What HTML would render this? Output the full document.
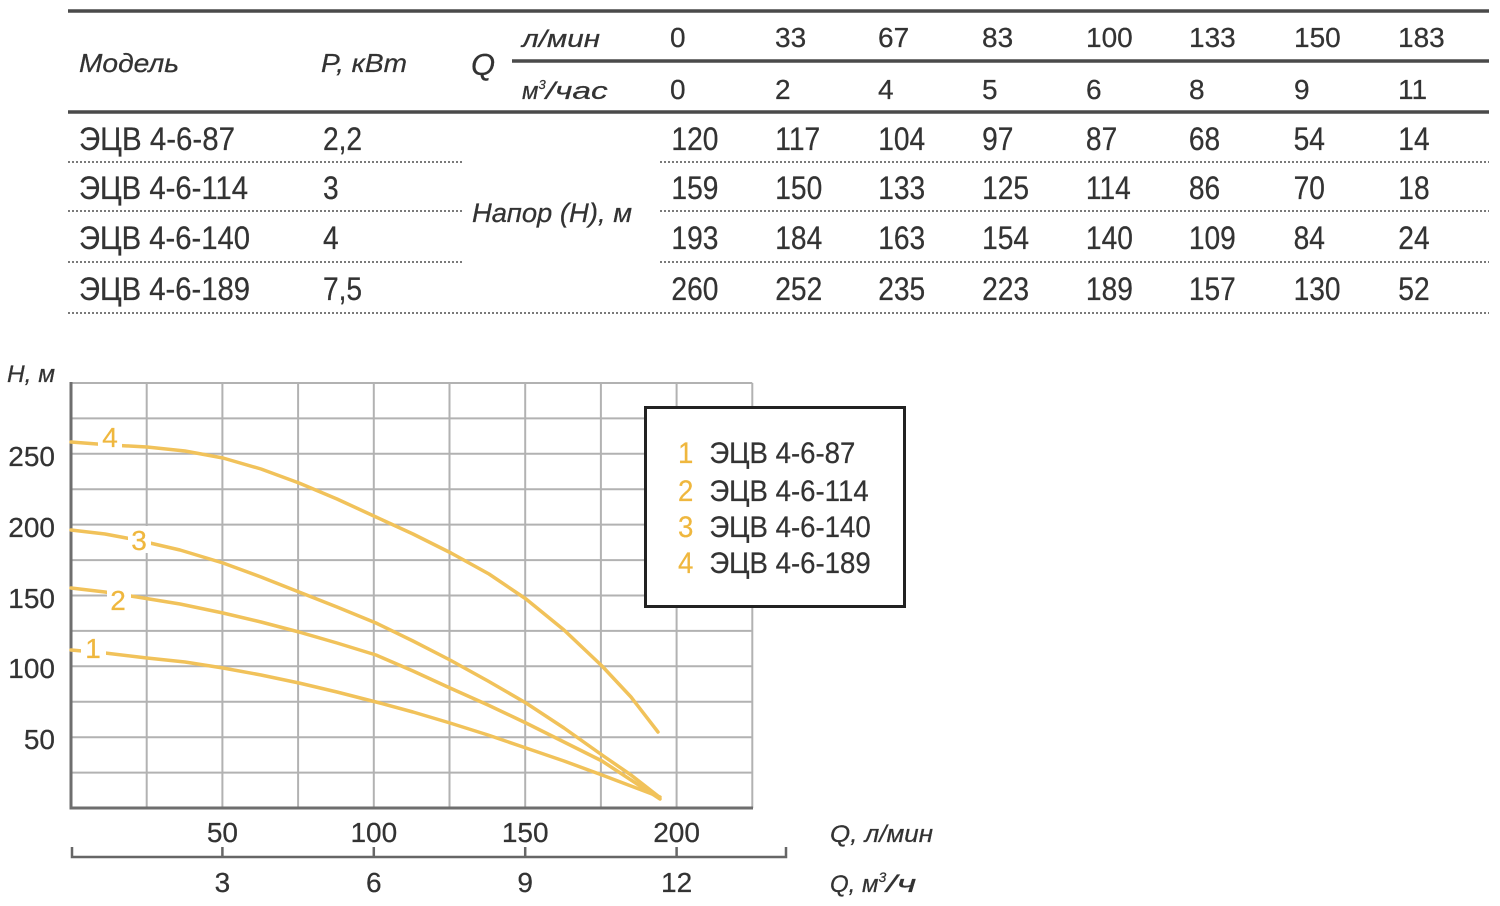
<!DOCTYPE html>
<html>
<head>
<meta charset="utf-8">
<style>
html,body{margin:0;padding:0;background:#fff;width:1500px;height:906px;overflow:hidden;}
svg{display:block;}
text{font-family:"Liberation Sans","DejaVu Sans",sans-serif;fill:#333;stroke:#333;stroke-width:0.25;}
.it{font-style:italic;}
.gold{fill:#efb73e;stroke:#efb73e;}
</style>
</head>
<body>
<svg width="1500" height="906" viewBox="0 0 1500 906" xmlns="http://www.w3.org/2000/svg">
<rect x="0" y="0" width="1500" height="906" fill="#fff"/>

<!-- ===== TABLE ===== -->
<g stroke="#4a4a4a" stroke-width="3.5">
  <line x1="68" y1="11" x2="1489" y2="11"/>
  <line x1="512" y1="61" x2="1489" y2="61"/>
  <line x1="68" y1="112" x2="1489" y2="112"/>
</g>
<g stroke="#7a7a7a" stroke-width="2" stroke-dasharray="2 2">
  <line x1="68" y1="162" x2="462" y2="162"/>
  <line x1="660" y1="162" x2="1489" y2="162"/>
  <line x1="68" y1="211" x2="462" y2="211"/>
  <line x1="660" y1="211" x2="1489" y2="211"/>
  <line x1="68" y1="262" x2="462" y2="262"/>
  <line x1="660" y1="262" x2="1489" y2="262"/>
  <line x1="68" y1="313" x2="1489" y2="313"/>
</g>

<!-- header -->
<text class="it" x="79" y="72" font-size="26" textLength="100" lengthAdjust="spacingAndGlyphs">Модель</text>
<text class="it" x="321" y="72" font-size="26" textLength="86" lengthAdjust="spacingAndGlyphs">P, кВт</text>
<text class="it" x="471" y="75" font-size="31">Q</text>
<text class="it" x="522" y="47" font-size="24" textLength="78" lengthAdjust="spacingAndGlyphs">л/мин</text>
<text class="it" x="522" y="99" font-size="24">м<tspan font-size="13" dy="-10">3</tspan><tspan dy="10" textLength="62" lengthAdjust="spacingAndGlyphs">/час</tspan></text>

<g font-size="28">
  <text x="670" y="47">0</text>
  <text x="775" y="47">33</text>
  <text x="878" y="47">67</text>
  <text x="982" y="47">83</text>
  <text x="1086" y="47">100</text>
  <text x="1189" y="47">133</text>
  <text x="1294" y="47">150</text>
  <text x="1398" y="47">183</text>
  <text x="670" y="99">0</text>
  <text x="775" y="99">2</text>
  <text x="878" y="99">4</text>
  <text x="982" y="99">5</text>
  <text x="1086" y="99">6</text>
  <text x="1189" y="99">8</text>
  <text x="1294" y="99">9</text>
  <text x="1398" y="99">11</text>
</g>

<text class="it" x="472" y="222" font-size="27" textLength="160" lengthAdjust="spacingAndGlyphs">Напор (Н), м</text>

<!-- model names -->
<g font-size="32">
  <text x="79" y="150" textLength="156" lengthAdjust="spacingAndGlyphs">ЭЦВ 4-6-87</text>
  <text x="79" y="199" textLength="169" lengthAdjust="spacingAndGlyphs">ЭЦВ 4-6-114</text>
  <text x="79" y="249" textLength="171" lengthAdjust="spacingAndGlyphs">ЭЦВ 4-6-140</text>
  <text x="79" y="300" textLength="171" lengthAdjust="spacingAndGlyphs">ЭЦВ 4-6-189</text>
</g>

<!-- data rows (condensed) -->
<g transform="scale(0.88 1)" font-size="32">
  <text x="367" y="150">2,2</text>
  <text x="367" y="199">3</text>
  <text x="367" y="249">4</text>
  <text x="367" y="300">7,5</text>

  <text x="763" y="150">120</text><text x="881" y="150">117</text><text x="998" y="150">104</text><text x="1116" y="150">97</text><text x="1234" y="150">87</text><text x="1351" y="150">68</text><text x="1470" y="150">54</text><text x="1589" y="150">14</text>
  <text x="763" y="199">159</text><text x="881" y="199">150</text><text x="998" y="199">133</text><text x="1116" y="199">125</text><text x="1234" y="199">114</text><text x="1351" y="199">86</text><text x="1470" y="199">70</text><text x="1589" y="199">18</text>
  <text x="763" y="249">193</text><text x="881" y="249">184</text><text x="998" y="249">163</text><text x="1116" y="249">154</text><text x="1234" y="249">140</text><text x="1351" y="249">109</text><text x="1470" y="249">84</text><text x="1589" y="249">24</text>
  <text x="763" y="300">260</text><text x="881" y="300">252</text><text x="998" y="300">235</text><text x="1116" y="300">223</text><text x="1234" y="300">189</text><text x="1351" y="300">157</text><text x="1470" y="300">130</text><text x="1589" y="300">52</text>
</g>

<!-- ===== CHART ===== -->
<g stroke="#b2b2b2" stroke-width="2">
  <line x1="146.7" y1="383" x2="146.7" y2="808"/>
  <line x1="222.4" y1="383" x2="222.4" y2="808"/>
  <line x1="298.1" y1="383" x2="298.1" y2="808"/>
  <line x1="373.8" y1="383" x2="373.8" y2="808"/>
  <line x1="449.5" y1="383" x2="449.5" y2="808"/>
  <line x1="525.2" y1="383" x2="525.2" y2="808"/>
  <line x1="600.9" y1="383" x2="600.9" y2="808"/>
  <line x1="676.6" y1="383" x2="676.6" y2="808"/>
  <line x1="752.3" y1="383" x2="752.3" y2="808"/>
  <line x1="71" y1="383" x2="752.3" y2="383"/>
  <line x1="71" y1="418.4" x2="752.3" y2="418.4"/>
  <line x1="71" y1="453.8" x2="752.3" y2="453.8"/>
  <line x1="71" y1="489.2" x2="752.3" y2="489.2"/>
  <line x1="71" y1="524.6" x2="752.3" y2="524.6"/>
  <line x1="71" y1="560.1" x2="752.3" y2="560.1"/>
  <line x1="71" y1="595.5" x2="752.3" y2="595.5"/>
  <line x1="71" y1="630.9" x2="752.3" y2="630.9"/>
  <line x1="71" y1="666.3" x2="752.3" y2="666.3"/>
  <line x1="71" y1="701.7" x2="752.3" y2="701.7"/>
  <line x1="71" y1="737.2" x2="752.3" y2="737.2"/>
  <line x1="71" y1="772.6" x2="752.3" y2="772.6"/>
</g>
<g stroke="#6e6e6e" stroke-width="3">
  <line x1="71" y1="382" x2="71" y2="809"/>
  <line x1="69.5" y1="808" x2="753" y2="808"/>
</g>

<!-- curves -->
<g fill="none" stroke="#f1c25a" stroke-width="3.5" stroke-linejoin="round" stroke-linecap="round">
  <polyline points="71,442 110,445 147,447 185,451 223,458 261,469 299,483 337,499 376,517 413,534 451,553 489,574 526,599 564,630 602,666 631,697 658,732"/>
  <polyline points="71,530 105,534 137,540 180,550 223,563 261,577 299,592 337,607 376,623 413,641 450,660 488,681 526,703 564,728 602,755 631,775 658,796"/>
  <polyline points="71,588 105,592 137,597 180,604 223,613 261,622 299,632 337,643 376,655 413,671 450,688 488,705 526,723 564,742 602,761 631,780 660,799"/>
  <polyline points="71,650 105,653 147,658 185,662 223,668 261,675 299,683 337,692 376,702 413,712 450,723 488,735 526,748 564,761 602,775 631,786 660,797"/>
</g>

<g fill="#fff">
  <rect x="98" y="424" width="24" height="26"/>
  <rect x="128" y="526" width="23" height="27"/>
  <rect x="107" y="586" width="24" height="27"/>
  <rect x="81" y="636" width="25" height="26"/>
</g>
<g font-size="28" text-anchor="middle">
  <text class="gold" x="110" y="447">4</text>
  <text class="gold" x="139" y="550">3</text>
  <text class="gold" x="118" y="610">2</text>
  <text class="gold" x="93" y="658">1</text>
</g>

<g font-size="28" text-anchor="end">
  <text x="55" y="466">250</text>
  <text x="55" y="537">200</text>
  <text x="55" y="608">150</text>
  <text x="55" y="678">100</text>
  <text x="55" y="749">50</text>
</g>
<text class="it" x="7" y="382" font-size="24" textLength="48" lengthAdjust="spacingAndGlyphs">H, м</text>

<g font-size="28" text-anchor="middle">
  <text x="222.4" y="842">50</text>
  <text x="373.8" y="842">100</text>
  <text x="525.2" y="842">150</text>
  <text x="676.6" y="842">200</text>
  <text x="222.4" y="892">3</text>
  <text x="373.8" y="892">6</text>
  <text x="525.2" y="892">9</text>
  <text x="676.6" y="892">12</text>
</g>
<g stroke="#666" stroke-width="2.5" fill="none">
  <polyline points="72,847 72,857 786,857 786,847"/>
  <line x1="222.4" y1="847" x2="222.4" y2="857"/>
  <line x1="373.8" y1="847" x2="373.8" y2="857"/>
  <line x1="525.2" y1="847" x2="525.2" y2="857"/>
  <line x1="676.6" y1="847" x2="676.6" y2="857"/>
</g>
<text class="it" x="830" y="842" font-size="24" textLength="103" lengthAdjust="spacingAndGlyphs">Q, л/мин</text>
<text class="it" x="830" y="892" font-size="24">Q, м<tspan font-size="14" dy="-10">3</tspan><tspan dy="10" textLength="30" lengthAdjust="spacingAndGlyphs">/ч</tspan></text>

<!-- legend -->
<rect x="645.5" y="407.5" width="259" height="199" fill="#fff" stroke="#222" stroke-width="3"/>
<g transform="scale(0.92 1)" font-size="30">
  <text class="gold" x="737" y="463">1</text>
  <text class="gold" x="737" y="501">2</text>
  <text class="gold" x="737" y="537">3</text>
  <text class="gold" x="737" y="573">4</text>
  <text x="771" y="463">ЭЦВ 4-6-87</text>
  <text x="771" y="501">ЭЦВ 4-6-114</text>
  <text x="771" y="537">ЭЦВ 4-6-140</text>
  <text x="771" y="573">ЭЦВ 4-6-189</text>
</g>
</svg>
</body>
</html>
